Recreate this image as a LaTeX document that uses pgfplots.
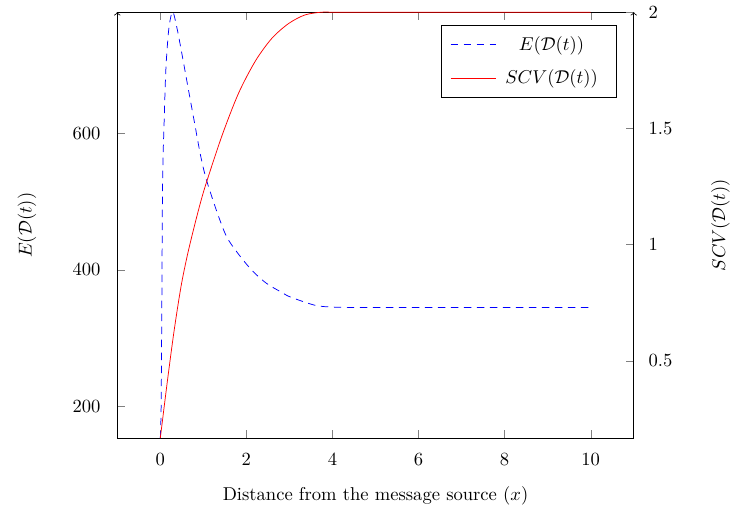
\documentclass[border=0pt]{standalone}
\usepackage{pgfplots}
\pgfplotsset{compat=1.18}
\pgfplotsset{
  common/.style={
    scale only axis,
    width=278pt, height=229.3pt,
    xmin=-1, xmax=11,
    clip=false,
  },
}
\begin{document}
\begin{tikzpicture}
\begin{axis}[
  common,
  ymin=153.6, ymax=777,
  axis y line*=left,
  axis x line*=box,
  y axis line style={->},
  xtick={0,2,4,6,8,10},
  ytick={200,400,600},
  xticklabel style={yshift=-4.5pt},
  yticklabel style={xshift=-5.5pt},
  xlabel={Distance from the message source ($x$)},
  ylabel={$E(\mathcal{D}(t))$},
  xlabel style={at={(axis description cs:0.5,-0.135)}, anchor=center},
  ylabel style={at={(axis description cs:-0.175,0.5)}, anchor=center},
]
\addplot[draw=blue, color=blue, dash pattern=on 4pt off 3pt, smooth] coordinates {
(0,153.6) (0.02,200) (0.035,340) (0.054,530) (0.092,622) (0.13,694) (0.19,748) (0.25,772) (0.30,777) (0.40,750) (0.52,710) (0.67,658) (0.79,617) (0.94,566) (1.08,530) (1.36,477) (1.59,443) (2.06,404) (2.45,381) (2.82,367) (3.03,360) (3.6,348) (4.0,345.5) (4.4,345) (5,345) (6,345) (7,345) (8,345) (9,345) (10,345)
};
\path (rel axis cs:-0.227,-0.179) (rel axis cs:1.185,1.023);
\end{axis}
\begin{axis}[
  common,
  ymin=0.167, ymax=2,
  axis y line*=right,
  axis x line=none,
  y axis line style={->},
  ytick={0.5,1,1.5,2},
  yticklabel style={xshift=4.5pt},
  ylabel={$SCV(\mathcal{D}(t))$},
  ylabel style={at={(axis description cs:1.168,0.5)}, anchor=center},
  legend cell align=center,
  legend style={at={(0.967,0.97)}, anchor=north east, inner xsep=5pt, inner ysep=4pt, row sep=5pt,
    nodes={inner xsep=5pt}},
  legend image code/.code={\draw[#1] (0cm,0cm) -- (0.85cm,0cm);},
]
\addlegendimage{draw=blue, color=blue, dash pattern=on 4pt off 3pt}
\addlegendentry{$E(\mathcal{D}(t))$}
\addplot[red, smooth] coordinates {
(0,0.167) (0.17,0.42) (0.32,0.628) (0.48,0.818) (0.63,0.955) (0.79,1.078) (0.94,1.185) (1.08,1.272) (1.44,1.472) (1.82,1.652) (2.21,1.79) (2.59,1.887) (2.98,1.951) (3.36,1.988) (3.75,2.0) (4,2) (5,2) (6,2) (7,2) (8,2) (9,2) (10,2)
};
\addlegendentry{$SCV(\mathcal{D}(t))$}
\end{axis}
\end{tikzpicture}
\end{document}
